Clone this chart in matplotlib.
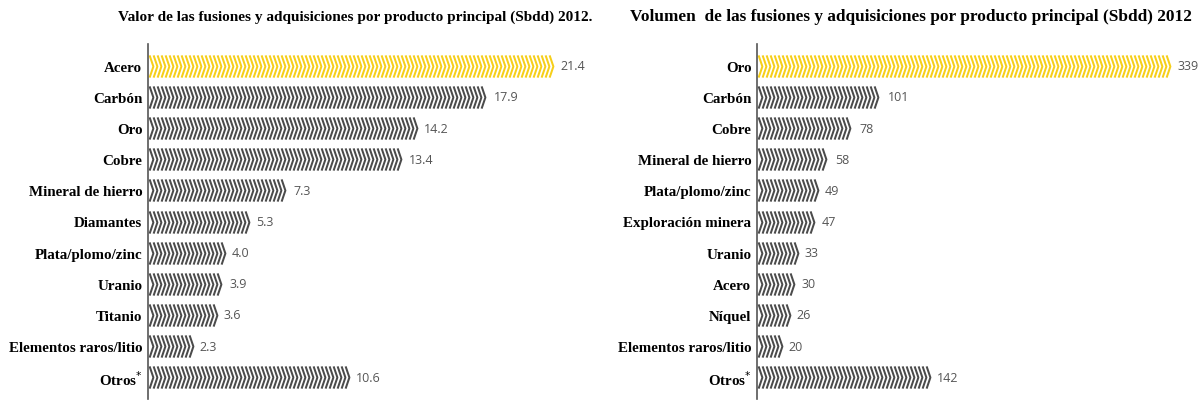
import numpy as np
import matplotlib
matplotlib.use('Agg')
import matplotlib.pyplot as plt
from matplotlib.path import Path

# data
val_cats = ['Acero', 'Carbón', 'Oro', 'Cobre', 'Mineral de hierro', 'Diamantes',
            'Plata/plomo/zinc', 'Uranio', 'Titanio', 'Elementos raros/litio', 'Otros$^{*}$']
val_vals = [21.4, 17.9, 14.2, 13.4, 7.3, 5.3, 4.0, 3.9, 3.6, 2.3, 10.6]
val_labels = ['21.4', '17.9', '14.2', '13.4', '7.3', '5.3', '4.0', '3.9', '3.6', '2.3', '10.6']

vol_cats = ['Oro', 'Carbón', 'Cobre', 'Mineral de hierro', 'Plata/plomo/zinc',
            'Exploración minera', 'Uranio', 'Acero', 'Níquel', 'Elementos raros/litio', 'Otros$^{*}$']
vol_vals = [339, 101, 78, 58, 49, 47, 33, 30, 26, 20, 142]
vol_labels = ['339', '101', '78', '58', '49', '47', '33', '30', '26', '20', '142']

title_val = 'Valor de las fusiones y adquisiciones por producto principal (Sbdd) 2012.'
title_vol = 'Volumen  de las fusiones y adquisiciones por producto principal (Sbdd) 2012'

YELLOW = '#f6cf1a'
GRAY = '#4b4b4b'
SERIF = 'Liberation Serif'

# chevron marker
chev = Path([(-0.17, -1), (0.17, 0), (-0.17, 1)],
            [Path.MOVETO, Path.LINETO, Path.LINETO])

W, H = 1202, 402
fig = plt.figure(figsize=(W / 100, H / 100), dpi=100)


def panel(left_px, xmax, width_px, cats, vals, labels, title, title_x, title_fs):
    top_px, bot_px = 45, 400
    ax = fig.add_axes([left_px / W, (H - bot_px) / H, width_px / W, (bot_px - top_px) / H])
    n = len(cats)
    ax.set_xlim(0, xmax)
    ax.set_ylim(n - 1 + 0.7, -0.7)
    step = 4.0 * xmax / width_px  # 4 px between chevrons
    for i, v in enumerate(vals):
        col = YELLOW if i == 0 else GRAY
        xs = np.arange(step * 0.75, v, step)
        ax.plot(xs, np.full(len(xs), i), ls='none', marker=chev, markersize=16,
                markerfacecolor='none', markeredgecolor=col, markeredgewidth=1.45,
                clip_on=False)
        ax.text(v + step * 1.9, i, labels[i], va='center', ha='left',
                fontsize=9, color='#555555', family='Open Sans')
    ax.set_yticks(range(n))
    ax.set_yticklabels(cats, family=SERIF, fontweight='bold', fontsize=10.8)
    ax.tick_params(axis='y', length=0, pad=4)
    ax.set_xticks([])
    for s in ['top', 'right', 'bottom']:
        ax.spines[s].set_visible(False)
    ax.spines['left'].set_color('#555555')
    ax.spines['left'].set_linewidth(1.2)
    fig.text(title_x / W, 1 - 17 / H, title, ha='center', va='center',
             family=SERIF, fontweight='bold', fontsize=title_fs)
    return ax


panel(148, 24, 454, val_cats, val_vals, val_labels, title_val, 355, 11)
panel(757, 360, 438, vol_cats, vol_vals, vol_labels, title_vol, 911, 12.4)

fig.savefig('out.png', dpi=100)
